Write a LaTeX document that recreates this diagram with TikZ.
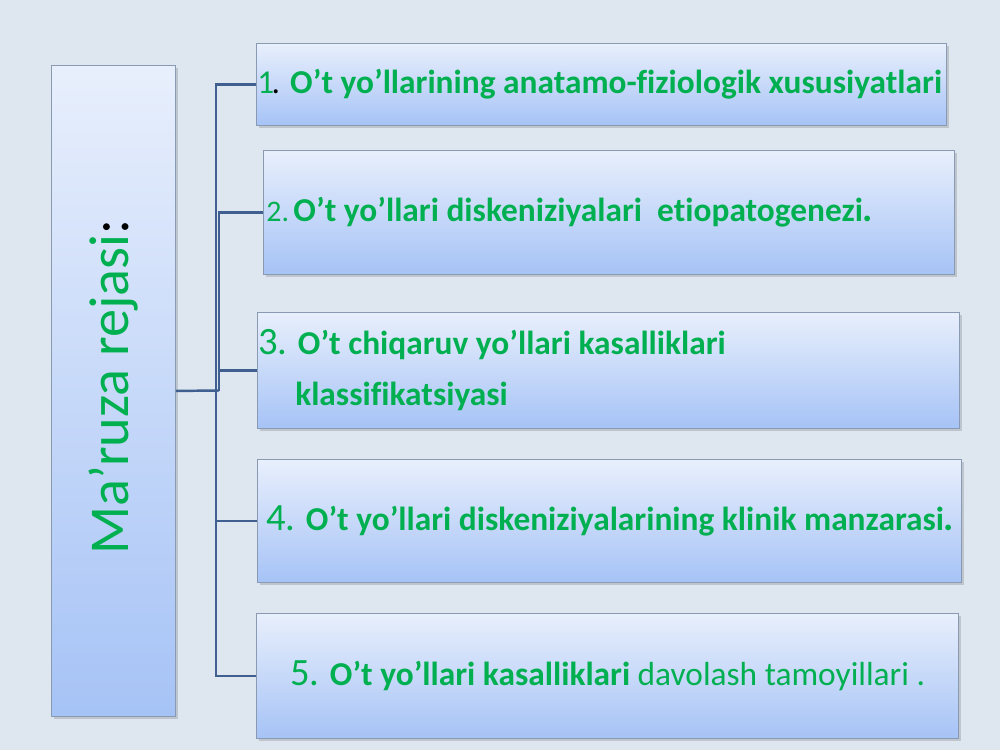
\documentclass[tikz,border=0pt]{standalone}
\usepackage{fontspec}
\setmainfont{Carlito}[Ligatures={NoCommon,NoContextual}]
\usetikzlibrary{positioning,shadows}
\definecolor{pagebg}{HTML}{DEE6EF}
\definecolor{plangreen}{HTML}{00B050}
\definecolor{boxtop}{HTML}{E8EFFC}
\definecolor{boxbot}{HTML}{A6C3F6}
\definecolor{boxline}{HTML}{8A9AB2}
\definecolor{linkblue}{HTML}{3E5F8F}
\newcommand{\itemnum}[1]{{\fontsize{22}{25}\selectfont\mdseries #1}}

\begin{document}
\begin{tikzpicture}[x=0.2mm,y=-0.2mm,
   panel/.style={draw=boxline, line width=0.5pt, top color=boxtop, bottom color=boxbot,
      inner sep=0pt, anchor=north west,
      drop shadow={shadow xshift=0.5mm, shadow yshift=-0.5mm, opacity=0.25, fill=black!60}},
   itemtext/.style={text=plangreen, font=\fontsize{19}{22}\selectfont\bfseries, inner sep=0pt, align=left},
   link/.style={draw=linkblue, line width=1.4pt}]
\fill[pagebg] (0,0) rectangle (1000,750);
\useasboundingbox (0,0) rectangle (1000,750);

\node[panel, minimum width=24.8mm, minimum height=130.2mm] (plan) at (51,65) {};
\node[rotate=90, text=plangreen, font=\fontsize{32}{36}\selectfont] (plantitle) at (113,387) {Ma’ruza rejasi{\color{black}:}};

\node[panel, minimum width=138mm, minimum height=16.4mm] (it1) at (256,43) {};
\node[panel, minimum width=138.2mm, minimum height=24.8mm] (it2) at (263,150) {};
\node[panel, minimum width=140.4mm, minimum height=23.2mm] (it3) at (257,312) {};
\node[panel, minimum width=140.8mm, minimum height=24.6mm] (it4) at (257,459) {};
\node[panel, minimum width=140.4mm, minimum height=25mm] (it5) at (256,613) {};

\node[itemtext, right=0.2mm of it1.west] (tx1) {\mdseries 1\kern-1.5pt{\color{black}.} \bfseries O’t yo’llarining anatamo-fiziologik xususiyatlari};
\node[itemtext, right=0.6mm of it2.west] (tx2) {{\fontsize{17}{20}\selectfont\mdseries 2.}\hspace{2.5pt}O’t yo’llari diskeniziyalari\ \ etiopatogenezi{\fontsize{22}{22}\selectfont.}};
\node[itemtext, right=0.2mm of it3.west] (tx3) {\itemnum{3.} O’t chiqaruv yo’llari kasalliklari\\[7pt]\phantom{\itemnum{3.}}\ klassifikatsiyasi};
\node[itemtext, right=1.8mm of it4.west] (tx4) {\itemnum{4.} O’t yo’llari diskeniziyalarining klinik manzarasi{\fontsize{22}{22}\selectfont.}};
\node[itemtext, right=6.8mm of it5.west] (tx5) {\itemnum{5.} O’t yo’llari kasalliklari \mdseries davolash tamoyillari .};

\coordinate (hubA) at (216,390.5);
\coordinate (hubB) at (219,390.5);
\draw[link] (plan.east) -- (hubB);
\foreach \i/\h in {1/hubA,2/hubB,3/hubB,4/hubA,5/hubA}
   \draw[link] (\h) |- (it\i.west);
\end{tikzpicture}
\end{document}
